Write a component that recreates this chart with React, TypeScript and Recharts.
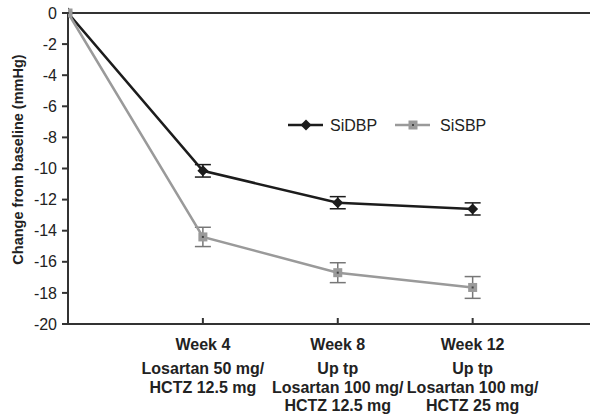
import React from "react";
import {
  LineChart,
  Line,
  XAxis,
  YAxis,
  ErrorBar,
  ReferenceLine,
} from "recharts";

const FONT = "Arial, 'Liberation Sans', sans-serif";

// x positions: 0 = baseline, 1..3 = visits
const xPos = [0, 1, 2, 3];
const weeks = ["", "Week 4", "Week 8", "Week 12"];
const regimens = [
  [],
  ["Losartan 50 mg/", "HCTZ 12.5 mg"],
  ["Up tp", "Losartan 100 mg/", "HCTZ 12.5 mg"],
  ["Up tp", "Losartan 100 mg/", "HCTZ 25 mg"],
];

const sidbp = [0, -10.15, -12.2, -12.6];
const sidbpErr = [0, 0.4, 0.39, 0.39];
const sisbp = [0, -14.4, -16.7, -17.65];
const sisbpErr = [0, 0.62, 0.64, 0.7];

const yTicks = [0, -2, -4, -6, -8, -10, -12, -14, -16, -18, -20];

const data = xPos.map((x, i) => ({
  x,
  dbp: sidbp[i],
  dbpErr: sidbpErr[i],
  sbp: sisbp[i],
  sbpErr: sisbpErr[i],
}));

const DARK = "#1c1c1c";
const GREY = "#9a9a9a";

function Diamond(props: any) {
  const { cx, cy } = props;
  if (cx == null || cy == null) return null;
  const r = 5.5;
  return (
    <path
      d={`M${cx},${cy - r}L${cx + r},${cy}L${cx},${cy + r}L${cx - r},${cy}Z`}
      fill={DARK}
    />
  );
}

function Square(props: any) {
  const { cx, cy } = props;
  if (cx == null || cy == null) return null;
  const s = 4.5;
  return (
    <g>
      <rect x={cx - s} y={cy - s} width={s * 2} height={s * 2} fill={GREY} />
      <rect x={cx - 1} y={cy - 1} width={2} height={2} fill="#444" />
    </g>
  );
}

const lineOffsets = [50, 69, 87];

function XTick(props: any) {
  const { x, y, payload } = props;
  const i = xPos.indexOf(payload.value);
  if (i < 1) return null;
  const lines = regimens[i];
  return (
    <g>
      <line x1={x} x2={x} y1={y - 6} y2={y} stroke="#333" strokeWidth={2} />
      <text
        x={x}
        y={y + 26}
        textAnchor="middle"
        fontSize={16}
        fontWeight="bold"
        fill="#222"
        fontFamily={FONT}
      >
        {weeks[i]}
      </text>
      {lines.map((t, k) => (
        <text
          key={k}
          x={x}
          y={y + lineOffsets[k]}
          textAnchor="middle"
          fontSize={16}
          fontWeight="bold"
          fill="#222"
          fontFamily={FONT}
        >
          {t}
        </text>
      ))}
    </g>
  );
}

function LegendBox() {
  return (
    <svg width={240} height={22} style={{ fontFamily: FONT, display: "block" }}>
      <line x1={3} x2={38} y1={11} y2={11} stroke={DARK} strokeWidth={2.5} />
      <Diamond cx={21} cy={11} />
      <text x={45} y={17} fontSize={16} fill="#222">
        SiDBP
      </text>
      <line x1={110} x2={145} y1={11} y2={11} stroke={GREY} strokeWidth={2.5} />
      <Square cx={128} cy={11} />
      <text x={155} y={17} fontSize={16} fill="#222">
        SiSBP
      </text>
    </svg>
  );
}

export default function App() {
  return (
    <div
      style={{
        position: "absolute",
        left: 0,
        top: 0,
        width: 604,
        height: 416,
        background: "#fff",
        fontFamily: FONT,
        overflow: "hidden",
      }}
    >
      <LineChart
        width={604}
        height={416}
        data={data}
        margin={{ top: 13, right: 14, bottom: 0, left: 0 }}
      >
        <XAxis
          dataKey="x"
          type="number"
          domain={[0, 3.87]}
          ticks={[1, 2, 3]}
          allowDataOverflow
          height={92}
          axisLine={{ stroke: "#333", strokeWidth: 2 }}
          tickLine={false}
          tickSize={0}
          tickMargin={0}
          tick={<XTick />}
          interval={0}
        />
        <YAxis
          type="number"
          domain={[-20, 0]}
          ticks={yTicks}
          interval={0}
          width={68}
          axisLine={{ stroke: "#333", strokeWidth: 2 }}
          tickLine={{ stroke: "#333", strokeWidth: 2 }}
          tickSize={6}
          tickMargin={5}
          tick={{ fontSize: 16, fill: "#222", fontFamily: FONT }}
          label={{
            value: "Change from baseline (mmHg)",
            angle: -90,
            position: "insideLeft",
            offset: 18,
            dy: -9,
            style: {
              textAnchor: "middle",
              fontSize: 14.5,
              fontWeight: "bold",
              fill: "#222",
              fontFamily: FONT,
            },
          }}
        />
        <ReferenceLine y={0} stroke="#333" strokeWidth={2} />
        <Line
          dataKey="dbp"
          stroke={DARK}
          strokeWidth={2.5}
          dot={<Diamond />}
          activeDot={false}
          isAnimationActive={false}
        >
          <ErrorBar
            dataKey="dbpErr"
            direction="y"
            width={8}
            stroke={DARK}
            strokeWidth={1.5}
          />
        </Line>
        <Line
          dataKey="sbp"
          stroke={GREY}
          strokeWidth={2.5}
          dot={<Square />}
          activeDot={false}
          isAnimationActive={false}
        >
          <ErrorBar
            dataKey="sbpErr"
            direction="y"
            width={8}
            stroke="#777"
            strokeWidth={1.5}
          />
        </Line>
      </LineChart>
      <div style={{ position: "absolute", left: 285, top: 114 }}>
        <LegendBox />
      </div>
    </div>
  );
}
